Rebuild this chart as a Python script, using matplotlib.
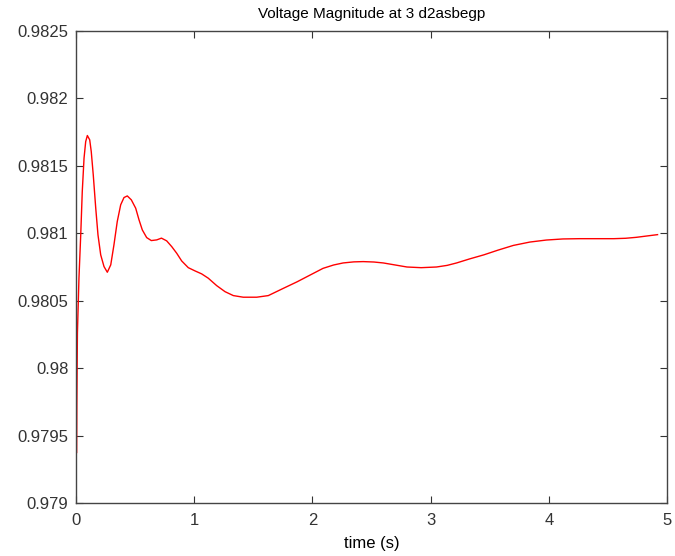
import matplotlib
matplotlib.use("Agg")
import matplotlib.pyplot as plt

plt.rcParams['font.family'] = ['Liberation Sans', 'DejaVu Sans']

title = "Voltage Magnitude at 3 d2asbegp"
xlabel = "time (s)"

time_s = [0.0, 0.002, 0.004, 0.008, 0.012, 0.025, 0.040, 0.053, 0.068, 0.082,
          0.096, 0.116, 0.129, 0.146, 0.167, 0.186, 0.209, 0.237, 0.265, 0.294,
          0.321, 0.349, 0.378, 0.406, 0.434, 0.468, 0.505, 0.533, 0.561, 0.598,
          0.637, 0.683, 0.723, 0.767, 0.810, 0.852, 0.894, 0.950, 1.007, 1.063,
          1.119, 1.190, 1.261, 1.331, 1.415, 1.529, 1.627, 1.75, 1.87, 1.98,
          2.09, 2.18, 2.26, 2.35, 2.43, 2.52, 2.60, 2.70, 2.80, 2.92,
          3.05, 3.14, 3.22, 3.33, 3.45, 3.57, 3.70, 3.84, 3.98, 4.12,
          4.26, 4.40, 4.55, 4.65, 4.74, 4.83, 4.92]
voltage = [0.97908, 0.97988, 0.97937, 0.97982, 0.98026, 0.980667, 0.980988, 0.981309, 0.981557, 0.98168,
           0.981725, 0.981693, 0.981606, 0.981433, 0.981186, 0.980988, 0.98084, 0.980753, 0.980711, 0.980766,
           0.980914, 0.981087, 0.981211, 0.981265, 0.981277, 0.981248, 0.981186, 0.9811, 0.981025, 0.980968,
           0.980946, 0.980951, 0.980964, 0.980944, 0.980901, 0.980852, 0.980795, 0.980745, 0.980721, 0.980699,
           0.980667, 0.980612, 0.980567, 0.980538, 0.980526, 0.980526, 0.980538, 0.98059, 0.98064, 0.98069,
           0.98074, 0.980765, 0.98078, 0.980788, 0.98079, 0.980787, 0.98078, 0.980765, 0.98075, 0.980745,
           0.98075, 0.980762, 0.98078, 0.98081, 0.98084, 0.980875, 0.98091, 0.980935, 0.98095, 0.980958,
           0.98096, 0.98096, 0.98096, 0.980963, 0.98097, 0.98098, 0.98099]

yticks = [0.979, 0.9795, 0.98, 0.9805, 0.981, 0.9815, 0.982, 0.9825]
yticklabels = ["0.979", "0.9795", "0.98", "0.9805", "0.981", "0.9815", "0.982", "0.9825"]
xticks = [0, 1, 2, 3, 4, 5]
xticklabels = ["0", "1", "2", "3", "4", "5"]

fig = plt.figure(figsize=(6.75, 5.56), dpi=100)
ax = fig.add_axes([76/675, 53/556, (667-76)/675, (503-31)/556])
ax.plot(time_s, voltage, color='red', linewidth=1.0)
ax.set_xlim(0, 5)
ax.set_ylim(0.979, 0.9825)
ax.set_xticks(xticks)
ax.set_xticklabels(xticklabels)
ax.set_yticks(yticks)
ax.set_yticklabels(yticklabels)
ax.tick_params(direction='in', top=True, right=True, length=5, labelsize=12, colors='#333333')
ax.tick_params(axis='x', pad=7)
ax.tick_params(axis='y', pad=5.5)
for s in ax.spines.values():
    s.set_color('#444444')
    s.set_linewidth(1.0)
ax.set_title(title, fontsize=11, pad=9.5)
ax.set_xlabel(xlabel, fontsize=12, labelpad=6)
fig.savefig("out.png", dpi=100)
